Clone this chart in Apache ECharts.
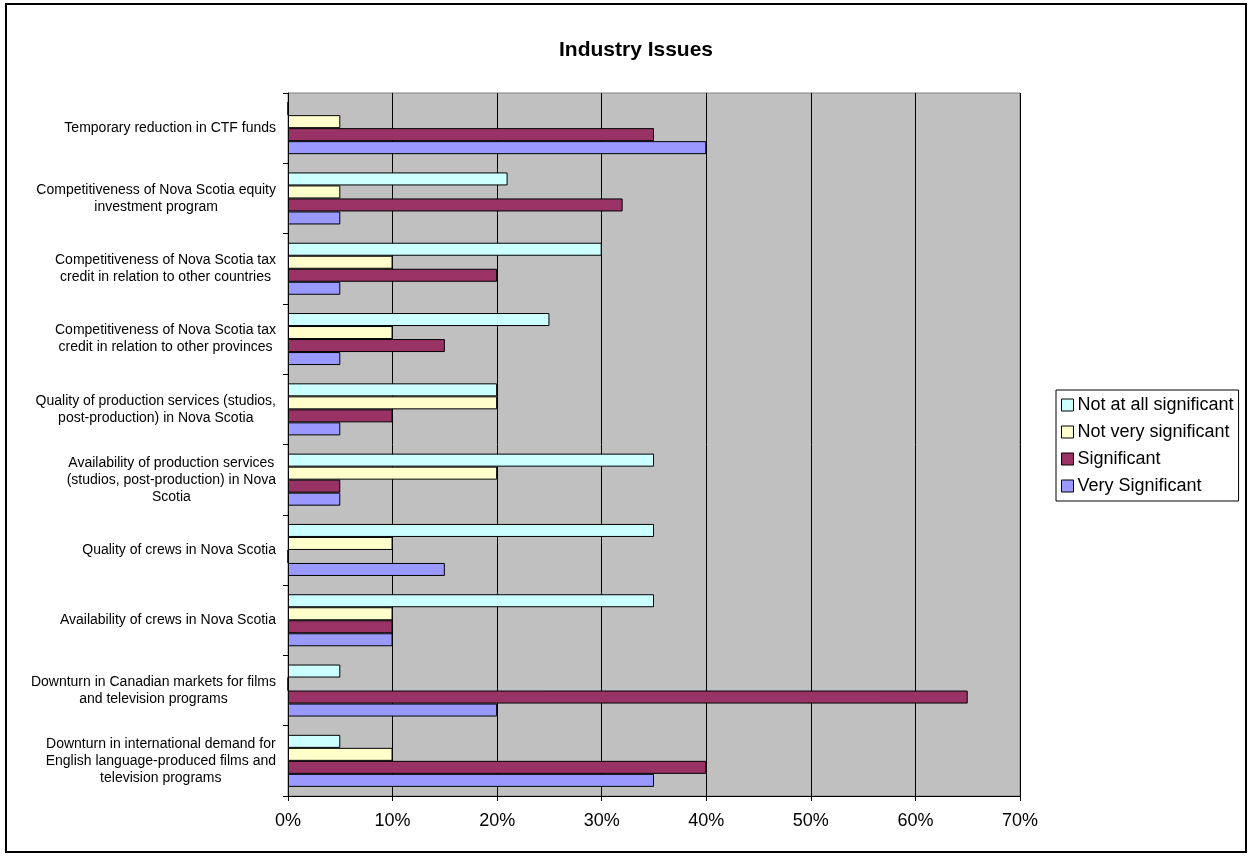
<!DOCTYPE html>
<html>
<head>
<meta charset="utf-8">
<script src="https://cdn.jsdelivr.net/npm/echarts@6/dist/echarts.min.js"></script>
<style>
  html, body { margin: 0; padding: 0; background: #fff; }
  #chart { width: 1252px; height: 856px; }
</style>
</head>
<body>
<div id="chart"></div>
<script>
// categories listed bottom to top (same direction as the y axis)
const categories = [
  'Downturn in international demand for\nEnglish language-produced films and\ntelevision programs',
  'Downturn in Canadian markets for films\nand television programs',
  'Availability of crews in Nova Scotia',
  'Quality of crews in Nova Scotia',
  'Availability of production services\n(studios, post-production) in Nova\nScotia',
  'Quality of production services (studios,\npost-production) in Nova Scotia',
  'Competitiveness of Nova Scotia tax\ncredit in relation to other provinces',
  'Competitiveness of Nova Scotia tax\ncredit in relation to other countries',
  'Competitiveness of Nova Scotia equity\ninvestment program',
  'Temporary reduction in CTF funds'
];

const notAtAll    = [5, 5, 35, 35, 35, 20, 25, 30, 21, 0];
const notVery     = [10, 0, 10, 10, 20, 20, 10, 10, 5, 5];
const significant = [40, 65, 10, 0, 5, 10, 15, 20, 32, 35];
const verySig     = [35, 20, 10, 15, 5, 5, 5, 5, 5, 40];

const xTicks = [0, 10, 20, 30, 40, 50, 60, 70];

const font = '"Liberation Sans", Arial, sans-serif';

const chart = echarts.init(document.getElementById('chart'));

function bar(name, data, color) {
  return {
    name: name,
    type: 'bar',
    data: data,
    barGap: 0,
    barCategoryGap: '26%',
    itemStyle: { color: color, borderColor: '#000', borderWidth: 1 },
    emphasis: { disabled: true }
  };
}

chart.setOption({
  animation: false,
  backgroundColor: '#fff',
  title: {
    text: 'Industry Issues',
    left: 631,
    top: 35,
    textAlign: 'center',
    textStyle: { fontFamily: font, fontSize: 21, fontWeight: 'bold', color: '#000' }
  },
  legend: {
    left: 1056,
    top: 390,
    orient: 'vertical',
    data: ['Not at all significant', 'Not very significant', 'Significant', 'Very Significant'],
    icon: 'rect',
    itemWidth: 12,
    itemHeight: 12,
    itemGap: 9,
    padding: [6, 5, 6, 5],
    borderColor: '#000',
    borderWidth: 1,
    itemStyle: { borderColor: '#000', borderWidth: 1 },
    textStyle: { fontFamily: font, fontSize: 18, color: '#000', padding: [0, 0, 0, -1] }
  },
  grid: {
    left: 288,
    right: 232,
    top: 93,
    bottom: 60,
    show: true,
    backgroundColor: '#C0C0C0',
    borderColor: '#808080',
    borderWidth: 1
  },
  xAxis: {
    type: 'value',
    min: xTicks[0],
    max: xTicks[xTicks.length - 1],
    interval: 10,
    axisLine: { show: true, lineStyle: { color: '#000', width: 1 } },
    axisTick: { show: true, length: 5, lineStyle: { color: '#000' } },
    splitLine: { show: true, lineStyle: { color: '#000', width: 1 } },
    axisLabel: {
      formatter: '{value}%',
      margin: 16,
      fontFamily: font,
      fontSize: 18,
      color: '#000'
    }
  },
  yAxis: {
    type: 'category',
    data: categories,
    axisLine: { show: true, lineStyle: { color: '#000', width: 1 } },
    axisTick: { show: true, length: 5, lineStyle: { color: '#000' } },
    splitLine: { show: false },
    axisLabel: {
      margin: 12,
      interval: 0,
      formatter: v => v.split('\n').map(l => '{c|' + l + '}').join('\n'),
      rich: {
        c: { align: 'center', fontFamily: font, fontSize: 14, lineHeight: 17, color: '#000' }
      }
    }
  },
  // first series is drawn at the top of each group
  series: [
    bar('Not at all significant', notAtAll, '#CCFFFF'),
    bar('Not very significant', notVery, '#FFFFCC'),
    bar('Significant', significant, '#993366'),
    bar('Very Significant', verySig, '#9999FF')
  ],
  graphic: [{
    type: 'rect',
    shape: { x: 6, y: 4, width: 1240, height: 848 },
    style: { fill: 'none', stroke: '#000', lineWidth: 2 },
    silent: true
  }]
});
</script>
</body>
</html>
